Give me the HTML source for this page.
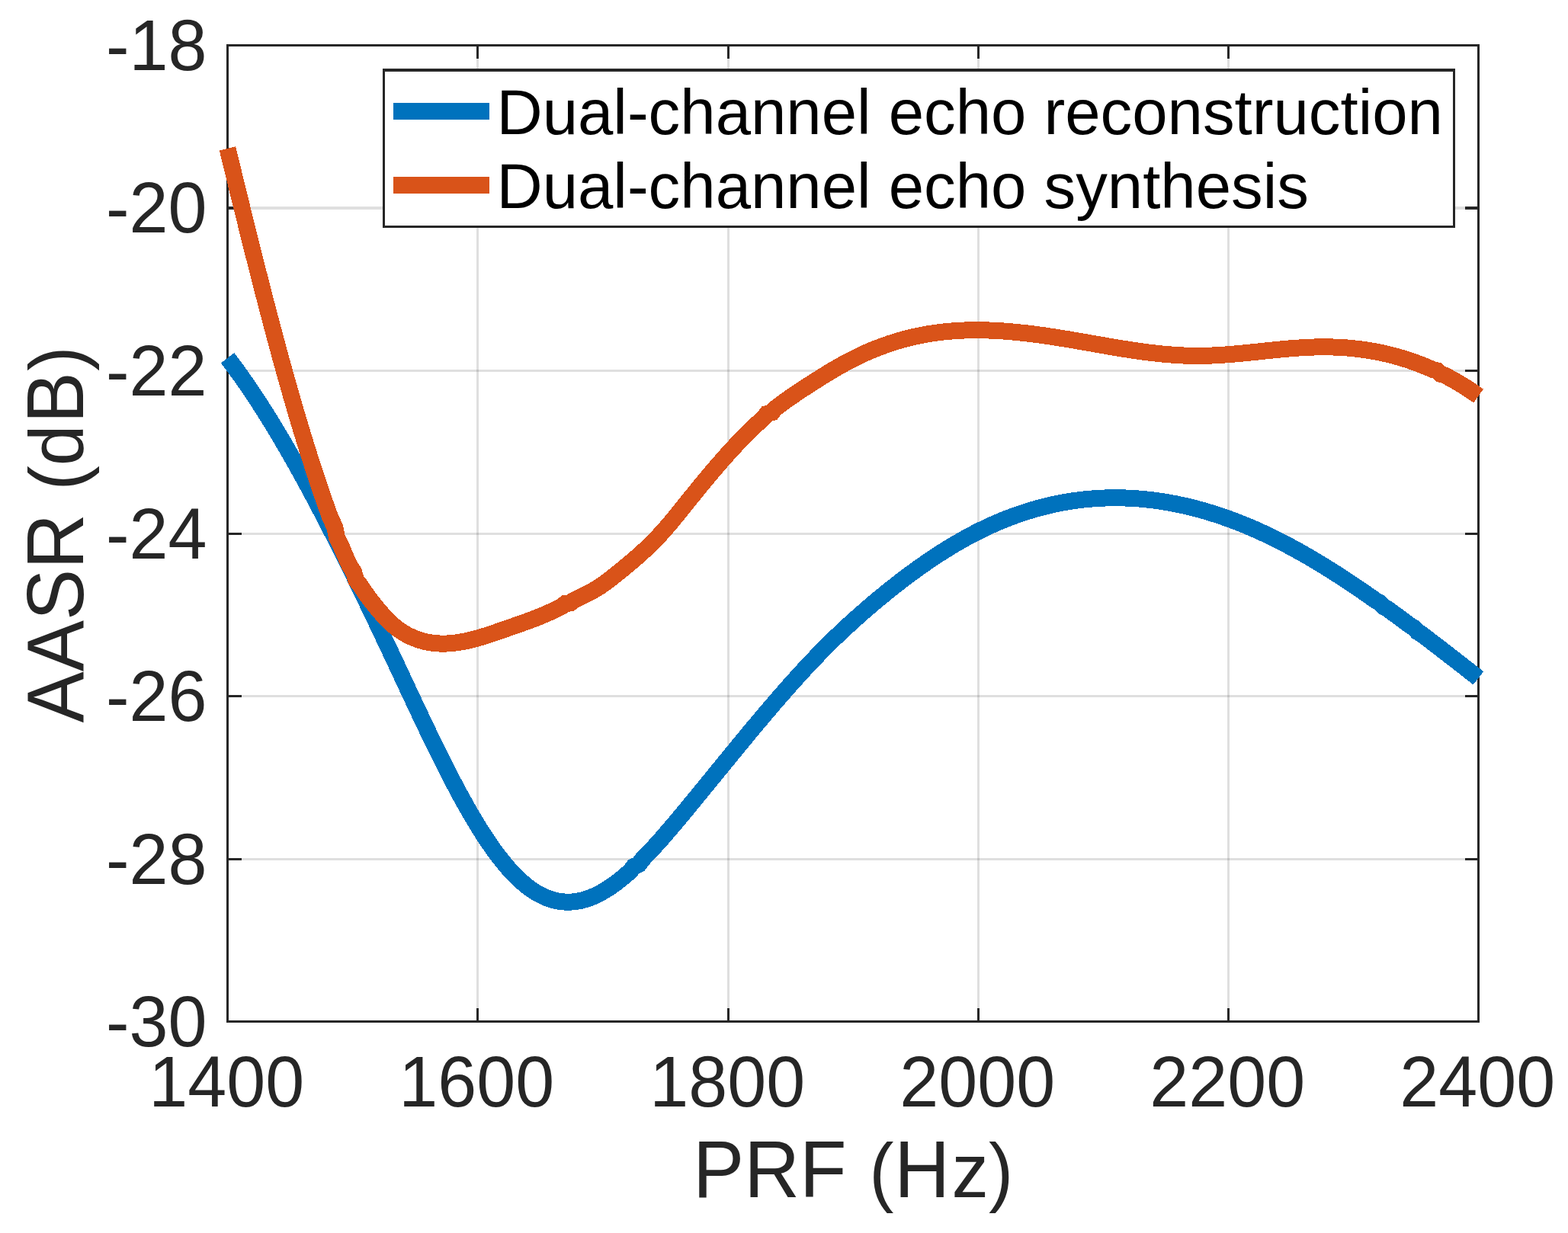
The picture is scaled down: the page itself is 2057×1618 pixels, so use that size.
<!DOCTYPE html>
<html lang="en"><head><meta charset="utf-8"><title>AASR vs PRF</title>
<style>html,body{margin:0;padding:0;background:#fff;}body{width:2057px;height:1618px;overflow:hidden;}svg{display:block;}text{font-family:"Liberation Sans",sans-serif;}</style></head><body>
<svg width="2057" height="1618" viewBox="0 0 2057 1618">
<rect x="0" y="0" width="2057" height="1618" fill="#fff"/>
<g stroke="#262626" stroke-opacity="0.15" stroke-width="3" fill="none">
<line x1="626.50" y1="59.50" x2="626.50" y2="1340.50"/>
<line x1="955.50" y1="59.50" x2="955.50" y2="1340.50"/>
<line x1="1283.50" y1="59.50" x2="1283.50" y2="1340.50"/>
<line x1="1611.50" y1="59.50" x2="1611.50" y2="1340.50"/>
<line x1="298.50" y1="273.00" x2="1939.50" y2="273.00" stroke-width="4"/>
<line x1="298.50" y1="486.50" x2="1939.50" y2="486.50" stroke-width="3"/>
<line x1="298.50" y1="700.50" x2="1939.50" y2="700.50" stroke-width="3"/>
<line x1="298.50" y1="913.50" x2="1939.50" y2="913.50" stroke-width="3"/>
<line x1="298.50" y1="1127.50" x2="1939.50" y2="1127.50" stroke-width="3"/>
</g>
<g stroke="#262626" stroke-width="3" fill="none" stroke-linecap="butt">
<rect x="298.50" y="59.50" width="1641.00" height="1281.00"/>
<line x1="626.50" y1="1340.50" x2="626.50" y2="1323.00"/>
<line x1="626.50" y1="59.50" x2="626.50" y2="77.00"/>
<line x1="955.50" y1="1340.50" x2="955.50" y2="1323.00"/>
<line x1="955.50" y1="59.50" x2="955.50" y2="77.00"/>
<line x1="1283.50" y1="1340.50" x2="1283.50" y2="1323.00"/>
<line x1="1283.50" y1="59.50" x2="1283.50" y2="77.00"/>
<line x1="1611.50" y1="1340.50" x2="1611.50" y2="1323.00"/>
<line x1="1611.50" y1="59.50" x2="1611.50" y2="77.00"/>
<line x1="298.50" y1="273.00" x2="317.00" y2="273.00" stroke-width="4"/>
<line x1="1939.50" y1="273.00" x2="1922.00" y2="273.00" stroke-width="4"/>
<line x1="298.50" y1="486.50" x2="317.00" y2="486.50" stroke-width="3"/>
<line x1="1939.50" y1="486.50" x2="1922.00" y2="486.50" stroke-width="3"/>
<line x1="298.50" y1="700.50" x2="317.00" y2="700.50" stroke-width="3"/>
<line x1="1939.50" y1="700.50" x2="1922.00" y2="700.50" stroke-width="3"/>
<line x1="298.50" y1="913.50" x2="317.00" y2="913.50" stroke-width="3"/>
<line x1="1939.50" y1="913.50" x2="1922.00" y2="913.50" stroke-width="3"/>
<line x1="298.50" y1="1127.50" x2="317.00" y2="1127.50" stroke-width="3"/>
<line x1="1939.50" y1="1127.50" x2="1922.00" y2="1127.50" stroke-width="3"/>
</g>
<path d="M298.50,469.80 L303.49,476.34 L308.48,483.03 L313.46,489.89 L318.45,496.89 L323.44,504.05 L328.43,511.35 L333.41,518.80 L338.40,526.39 L343.39,534.12 L348.38,541.98 L353.37,549.98 L358.35,558.10 L363.34,566.35 L368.33,574.73 L373.32,583.22 L378.31,591.83 L383.29,600.55 L388.28,609.38 L393.27,618.32 L398.26,627.37 L403.24,636.51 L408.23,645.76 L413.22,655.09 L418.21,664.52 L423.20,674.04 L428.18,683.65 L433.17,693.33 L438.16,703.10 L443.15,712.94 L448.14,722.86 L453.12,732.84 L458.11,742.89 L463.10,753.01 L468.09,763.19 L473.07,773.42 L478.06,783.71 L483.05,794.05 L488.04,804.44 L493.03,814.88 L498.01,825.36 L503.00,835.87 L507.99,846.42 L512.98,857.01 L517.97,867.63 L522.95,878.27 L527.94,888.92 L532.93,899.58 L537.92,910.23 L542.90,920.86 L547.89,931.44 L552.88,941.98 L557.87,952.45 L562.86,962.85 L567.84,973.16 L572.83,983.36 L577.82,993.45 L582.81,1003.40 L587.79,1013.22 L592.78,1022.88 L597.77,1032.37 L602.76,1041.67 L607.75,1050.78 L612.73,1059.68 L617.72,1068.36 L622.71,1076.81 L627.70,1085.00 L632.69,1092.94 L637.67,1100.60 L642.66,1107.97 L647.65,1115.05 L652.64,1121.82 L657.62,1128.27 L662.61,1134.40 L667.60,1140.21 L672.59,1145.66 L677.58,1150.77 L682.56,1155.52 L687.55,1159.90 L692.54,1163.91 L697.53,1167.53 L702.52,1170.78 L707.50,1173.65 L712.49,1176.16 L717.48,1178.30 L722.47,1180.08 L727.45,1181.51 L732.44,1182.57 L737.43,1183.29 L742.42,1183.66 L747.41,1183.68 L752.39,1183.37 L757.38,1182.71 L762.37,1181.73 L767.36,1180.41 L772.34,1178.77 L777.33,1176.82 L782.32,1174.58 L787.31,1172.04 L792.30,1169.23 L797.28,1166.15 L802.27,1162.82 L807.26,1159.25 L812.25,1155.44 L817.24,1151.42 L822.22,1147.18 L827.21,1142.75 L831.31,1137.19 L838.08,1134.29 L842.17,1128.39 L847.16,1123.28 L852.15,1118.04 L857.14,1112.66 L862.13,1107.16 L867.11,1101.56 L872.10,1095.86 L877.09,1090.08 L882.08,1084.23 L887.07,1078.31 L892.05,1072.35 L897.04,1066.34 L902.03,1060.31 L907.02,1054.26 L912.00,1048.19 L916.99,1042.11 L921.98,1036.01 L926.97,1029.91 L931.96,1023.79 L936.94,1017.68 L941.93,1011.56 L946.92,1005.45 L951.91,999.34 L956.90,993.24 L961.88,987.14 L966.87,981.06 L971.86,974.99 L976.85,968.94 L981.83,962.92 L986.82,956.91 L991.81,950.93 L996.80,944.98 L1001.79,939.05 L1006.77,933.17 L1011.76,927.31 L1016.75,921.50 L1021.74,915.73 L1026.72,910.00 L1031.71,904.32 L1036.70,898.69 L1041.69,893.11 L1046.68,887.59 L1051.66,882.12 L1056.65,876.71 L1061.64,871.37 L1066.63,866.09 L1071.62,860.88 L1076.60,855.74 L1081.59,850.67 L1086.58,845.68 L1091.57,840.76 L1096.55,835.92 L1101.54,831.15 L1106.53,826.45 L1111.52,821.82 L1116.51,817.25 L1121.49,812.75 L1126.48,808.30 L1131.47,803.91 L1136.46,799.58 L1141.45,795.30 L1146.43,791.07 L1151.42,786.89 L1156.41,782.76 L1161.40,778.68 L1166.38,774.66 L1171.37,770.68 L1176.36,766.76 L1181.35,762.90 L1186.34,759.09 L1191.32,755.33 L1196.31,751.64 L1201.30,748.00 L1206.29,744.42 L1211.28,740.90 L1216.26,737.44 L1221.25,734.05 L1226.24,730.72 L1231.23,727.45 L1236.21,724.24 L1241.20,721.11 L1246.19,718.03 L1251.18,715.03 L1256.17,712.10 L1261.15,709.23 L1266.14,706.44 L1271.13,703.71 L1276.12,701.06 L1281.10,698.48 L1286.09,695.98 L1291.08,693.55 L1296.07,691.20 L1301.06,688.91 L1306.04,686.71 L1311.03,684.57 L1316.02,682.51 L1321.01,680.52 L1326.00,678.61 L1330.98,676.76 L1335.97,674.99 L1340.96,673.29 L1345.95,671.66 L1350.93,670.10 L1355.92,668.62 L1360.91,667.20 L1365.90,665.85 L1370.89,664.58 L1375.87,663.37 L1380.86,662.24 L1385.85,661.17 L1390.84,660.17 L1395.83,659.24 L1400.81,658.38 L1405.80,657.58 L1410.79,656.86 L1415.78,656.20 L1420.76,655.61 L1425.75,655.09 L1430.74,654.63 L1435.73,654.24 L1440.72,653.91 L1445.70,653.66 L1450.69,653.46 L1455.68,653.33 L1460.67,653.27 L1465.66,653.27 L1470.64,653.34 L1475.63,653.47 L1480.62,653.67 L1485.61,653.93 L1490.59,654.25 L1495.58,654.63 L1500.57,655.08 L1505.56,655.59 L1510.55,656.17 L1515.53,656.80 L1520.52,657.50 L1525.51,658.26 L1530.50,659.08 L1535.48,659.96 L1540.47,660.90 L1545.46,661.90 L1550.45,662.96 L1555.44,664.08 L1560.42,665.26 L1565.41,666.50 L1570.40,667.80 L1575.39,669.16 L1580.38,670.58 L1585.36,672.05 L1590.35,673.58 L1595.34,675.17 L1600.33,676.82 L1605.31,678.53 L1610.30,680.29 L1615.29,682.11 L1620.28,683.98 L1625.27,685.91 L1630.25,687.90 L1635.24,689.94 L1640.23,692.03 L1645.22,694.18 L1650.21,696.39 L1655.19,698.65 L1660.18,700.96 L1665.17,703.33 L1670.16,705.75 L1675.14,708.23 L1680.13,710.76 L1685.12,713.33 L1690.11,715.96 L1695.10,718.64 L1700.08,721.37 L1705.07,724.14 L1710.06,726.96 L1715.05,729.82 L1720.03,732.73 L1725.02,735.69 L1730.01,738.68 L1735.00,741.72 L1739.99,744.79 L1744.97,747.91 L1749.96,751.07 L1754.95,754.26 L1759.94,757.49 L1764.93,760.75 L1769.91,764.05 L1774.90,767.38 L1779.89,770.75 L1784.88,774.15 L1789.86,777.58 L1794.85,781.03 L1799.84,784.52 L1804.83,788.03 L1810.22,791.00 L1814.40,795.71 L1819.79,798.73 L1824.78,802.35 L1829.77,805.98 L1834.76,809.64 L1839.74,813.33 L1844.73,817.03 L1849.72,820.75 L1855.13,823.92 L1859.27,828.80 L1864.68,832.01 L1869.67,835.79 L1874.66,839.59 L1879.65,843.40 L1884.63,847.23 L1889.62,851.06 L1894.61,854.91 L1899.60,858.77 L1904.59,862.63 L1909.57,866.50 L1914.56,870.37 L1919.55,874.26 L1924.54,878.14 L1929.52,882.03 L1934.51,885.92 L1939.50,889.81" fill="none" stroke="#0072BD" stroke-width="22" stroke-linejoin="miter" stroke-miterlimit="4" stroke-linecap="butt" shape-rendering="crispEdges"/>
<path d="M298.50,194.88 L303.49,215.45 L308.48,235.94 L313.46,256.35 L318.45,276.65 L323.44,296.84 L328.43,316.88 L333.41,336.78 L338.40,356.50 L343.39,376.04 L348.38,395.38 L353.37,414.49 L358.35,433.37 L363.34,452.00 L368.33,470.36 L373.32,488.43 L378.31,506.21 L383.29,523.66 L388.28,540.78 L393.27,557.56 L398.26,573.99 L403.24,590.06 L408.23,605.78 L413.22,621.14 L418.21,636.14 L423.20,650.76 L428.18,665.01 L433.17,678.88 L439.28,691.94 L442.02,705.88 L448.14,718.07 L453.12,730.04 L458.11,741.17 L464.17,750.81 L467.02,761.09 L473.07,768.83 L478.06,776.37 L483.05,783.34 L488.04,789.89 L493.03,796.15 L498.01,802.17 L503.00,807.86 L507.99,813.17 L512.98,818.03 L517.97,822.37 L522.95,826.20 L527.94,829.56 L532.93,832.50 L537.92,835.05 L542.90,837.25 L547.89,839.14 L552.88,840.73 L557.87,842.03 L562.86,843.05 L567.84,843.80 L572.83,844.30 L577.82,844.57 L582.81,844.61 L587.79,844.44 L592.78,844.08 L597.77,843.52 L602.76,842.80 L607.75,841.92 L612.73,840.89 L617.72,839.74 L622.71,838.46 L627.70,837.08 L632.69,835.61 L637.67,834.05 L642.66,832.44 L647.65,830.77 L652.64,829.06 L657.62,827.32 L662.61,825.58 L667.60,823.83 L672.59,822.09 L677.58,820.35 L682.56,818.61 L687.55,816.83 L692.54,815.03 L697.53,813.18 L702.52,811.27 L707.50,809.29 L712.49,807.23 L717.48,805.08 L722.47,802.83 L727.45,800.47 L732.44,797.98 L737.43,795.42 L741.88,791.81 L747.94,791.49 L752.39,788.02 L757.38,785.63 L762.37,783.22 L767.36,780.74 L772.34,778.17 L777.33,775.45 L782.32,772.55 L787.31,769.43 L792.30,766.06 L797.28,762.41 L802.27,758.55 L807.26,754.56 L812.25,750.52 L817.24,746.45 L822.22,742.34 L827.21,738.17 L832.20,733.93 L837.19,729.58 L842.17,725.12 L847.16,720.52 L852.15,715.76 L857.14,710.83 L862.13,705.70 L867.11,700.35 L872.10,694.78 L877.09,689.01 L882.08,683.08 L887.07,677.02 L892.05,670.87 L897.04,664.67 L902.03,658.45 L907.02,652.24 L912.00,646.08 L916.99,639.95 L921.98,633.88 L926.97,627.86 L931.96,621.90 L936.94,616.01 L941.93,610.20 L946.92,604.46 L951.91,598.82 L956.90,593.27 L961.88,587.82 L966.87,582.47 L971.86,577.24 L976.85,572.13 L981.83,567.14 L986.82,562.28 L991.81,557.56 L996.80,552.99 L1001.79,548.57 L1005.81,543.15 L1012.73,541.34 L1016.75,536.24 L1021.74,532.41 L1026.72,528.70 L1031.71,525.11 L1036.70,521.60 L1041.69,518.17 L1046.68,514.81 L1051.66,511.50 L1056.65,508.23 L1061.64,504.99 L1066.63,501.77 L1071.62,498.58 L1076.60,495.44 L1081.59,492.34 L1086.58,489.29 L1091.57,486.29 L1096.55,483.36 L1101.54,480.50 L1106.53,477.71 L1111.52,475.00 L1116.51,472.37 L1121.49,469.83 L1126.48,467.39 L1131.47,465.04 L1136.46,462.78 L1141.45,460.62 L1146.43,458.54 L1151.42,456.56 L1156.41,454.66 L1161.40,452.86 L1166.38,451.14 L1171.37,449.50 L1176.36,447.95 L1181.35,446.48 L1186.34,445.10 L1191.32,443.80 L1196.31,442.58 L1201.30,441.45 L1206.29,440.39 L1211.28,439.41 L1216.26,438.51 L1221.25,437.68 L1226.24,436.93 L1231.23,436.26 L1236.21,435.65 L1241.20,435.12 L1246.19,434.66 L1251.18,434.26 L1256.17,433.94 L1261.15,433.67 L1266.14,433.47 L1271.13,433.32 L1276.12,433.24 L1281.10,433.21 L1286.09,433.24 L1291.08,433.33 L1296.07,433.46 L1301.06,433.65 L1306.04,433.88 L1311.03,434.16 L1316.02,434.48 L1321.01,434.85 L1326.00,435.26 L1330.98,435.71 L1335.97,436.20 L1340.96,436.72 L1345.95,437.28 L1350.93,437.87 L1355.92,438.49 L1360.91,439.14 L1365.90,439.82 L1370.89,440.53 L1375.87,441.26 L1380.86,442.01 L1385.85,442.78 L1390.84,443.58 L1395.83,444.39 L1400.81,445.21 L1405.80,446.05 L1410.79,446.90 L1415.78,447.76 L1420.76,448.63 L1425.75,449.50 L1430.74,450.38 L1435.73,451.26 L1440.72,452.13 L1445.70,453.00 L1450.69,453.87 L1455.68,454.73 L1460.67,455.58 L1465.66,456.41 L1470.64,457.23 L1475.63,458.03 L1480.62,458.81 L1485.61,459.57 L1490.59,460.31 L1495.58,461.02 L1500.57,461.70 L1505.56,462.35 L1510.55,462.96 L1515.53,463.54 L1520.52,464.09 L1525.51,464.59 L1530.50,465.05 L1535.48,465.46 L1540.47,465.83 L1545.46,466.15 L1550.45,466.41 L1555.44,466.63 L1560.42,466.78 L1565.41,466.88 L1570.40,466.92 L1575.39,466.89 L1580.38,466.81 L1585.36,466.67 L1590.35,466.48 L1595.34,466.24 L1600.33,465.95 L1605.31,465.63 L1610.30,465.27 L1615.29,464.87 L1620.28,464.45 L1625.27,464.00 L1630.25,463.53 L1635.24,463.04 L1640.23,462.54 L1645.22,462.02 L1650.21,461.50 L1655.19,460.98 L1660.18,460.46 L1665.17,459.94 L1670.16,459.43 L1675.14,458.94 L1680.13,458.46 L1685.12,458.00 L1690.11,457.56 L1695.10,457.15 L1700.08,456.77 L1705.07,456.43 L1710.06,456.13 L1715.05,455.87 L1720.03,455.65 L1725.02,455.49 L1730.01,455.38 L1735.00,455.32 L1739.99,455.33 L1744.97,455.40 L1749.96,455.54 L1754.95,455.73 L1759.94,456.00 L1764.93,456.33 L1769.91,456.73 L1774.90,457.19 L1779.89,457.73 L1784.88,458.34 L1789.86,459.02 L1794.85,459.78 L1799.84,460.61 L1804.83,461.51 L1809.82,462.50 L1814.80,463.56 L1819.79,464.70 L1824.78,465.93 L1829.77,467.23 L1834.76,468.62 L1839.74,470.09 L1844.73,471.65 L1849.72,473.29 L1854.71,475.02 L1859.69,476.84 L1864.68,478.76 L1869.67,480.76 L1874.66,482.85 L1879.65,485.04 L1885.06,486.42 L1889.20,490.61 L1894.61,492.18 L1899.60,494.76 L1904.59,497.44 L1909.57,500.24 L1914.56,503.16 L1919.55,506.19 L1924.54,509.35 L1929.52,512.63 L1934.51,516.05 L1939.50,519.60" fill="none" stroke="#D95319" stroke-width="22" stroke-linejoin="miter" stroke-miterlimit="4" stroke-linecap="butt" shape-rendering="crispEdges"/>
<text transform="translate(271.40,91.90) scale(1,1.0407)" font-size="91.67" text-anchor="end" fill="#262626">-18</text>
<text transform="translate(271.40,305.40) scale(1,1.0407)" font-size="91.67" text-anchor="end" fill="#262626">-20</text>
<text transform="translate(271.40,518.90) scale(1,1.0407)" font-size="91.67" text-anchor="end" fill="#262626">-22</text>
<text transform="translate(271.40,732.90) scale(1,1.0407)" font-size="91.67" text-anchor="end" fill="#262626">-24</text>
<text transform="translate(271.40,945.90) scale(1,1.0407)" font-size="91.67" text-anchor="end" fill="#262626">-26</text>
<text transform="translate(271.40,1159.90) scale(1,1.0407)" font-size="91.67" text-anchor="end" fill="#262626">-28</text>
<text transform="translate(271.40,1372.90) scale(1,1.0407)" font-size="91.67" text-anchor="end" fill="#262626">-30</text>
<text transform="translate(297.20,1452.00) scale(1,1.0407)" font-size="91.67" text-anchor="middle" fill="#262626">1400</text>
<text transform="translate(625.20,1452.00) scale(1,1.0407)" font-size="91.67" text-anchor="middle" fill="#262626">1600</text>
<text transform="translate(954.20,1452.00) scale(1,1.0407)" font-size="91.67" text-anchor="middle" fill="#262626">1800</text>
<text transform="translate(1282.20,1452.00) scale(1,1.0407)" font-size="91.67" text-anchor="middle" fill="#262626">2000</text>
<text transform="translate(1610.20,1452.00) scale(1,1.0407)" font-size="91.67" text-anchor="middle" fill="#262626">2200</text>
<text transform="translate(1938.20,1452.00) scale(1,1.0407)" font-size="91.67" text-anchor="middle" fill="#262626">2400</text>
<text transform="translate(1119.10,1570.60) scale(1,1.0407)" font-size="100.83" text-anchor="middle" fill="#262626">PRF <tspan font-size="96.89" dx="1.56">(</tspan><tspan dx="0.66">H</tspan><tspan font-size="96.89" dx="2.54">z)</tspan></text>
<text transform="translate(109.40,701.50) rotate(-90) scale(1,1.0407)" font-size="100.83" text-anchor="middle" fill="#262626">AASR <tspan font-size="96.89" dx="2.65">(d</tspan><tspan dx="1.75">B</tspan><tspan font-size="96.89" dx="1.56">)</tspan></text>
<rect x="502" y="90" width="1407" height="209" fill="#262626"/>
<rect x="505" y="94" width="1401" height="202" fill="#fff"/>
<line x1="516" y1="146" x2="642" y2="146" stroke="#0072BD" stroke-width="22"/>
<line x1="516" y1="243" x2="642" y2="243" stroke="#D95319" stroke-width="22"/>
<text transform="translate(651.50,176.00) scale(1,1)" font-size="83.33" text-anchor="start" fill="#000">Dual-channel echo reconstruction</text>
<text transform="translate(651.50,272.85) scale(1,1)" font-size="83.33" text-anchor="start" fill="#000">Dual-channel echo synthesis</text>
</svg></body></html>
